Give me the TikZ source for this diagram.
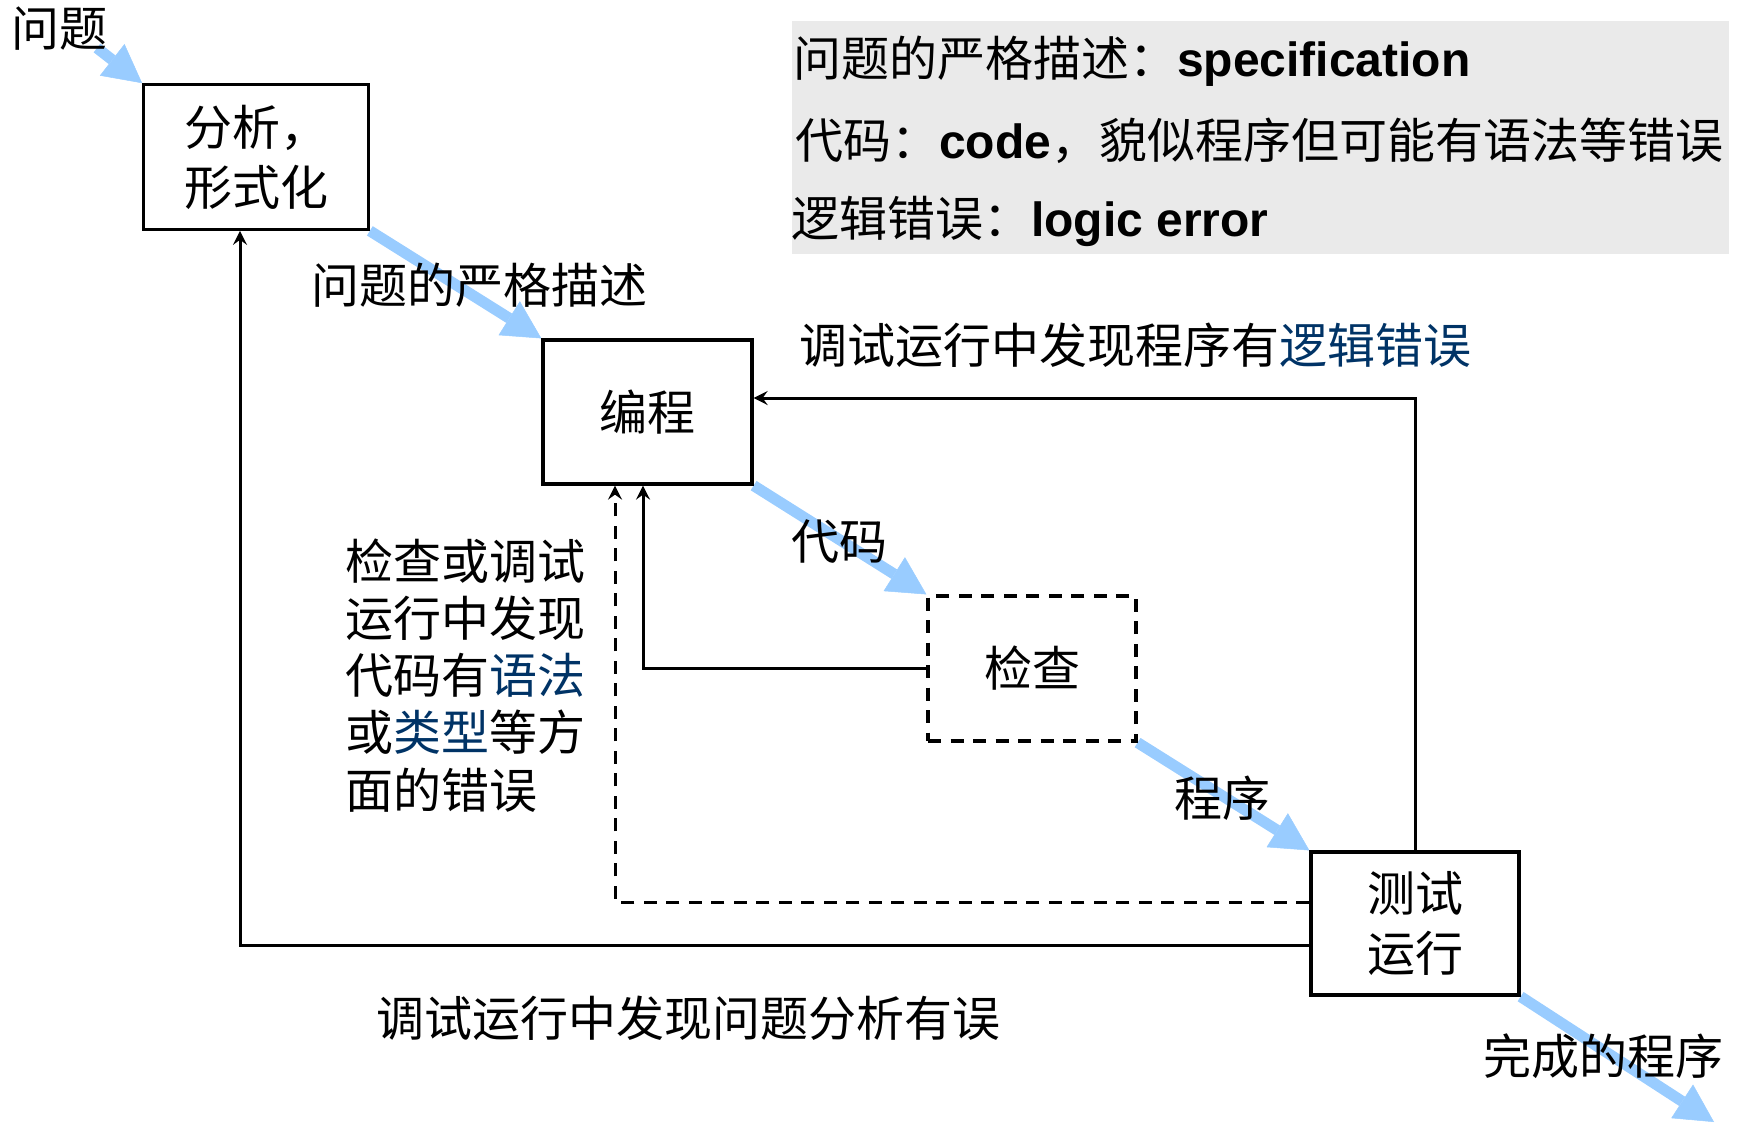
\documentclass[tikz,border=0pt]{standalone}
\usepackage{fontspec}
\setmainfont{Liberation Sans}
\newfontfamily\cjk{Noto Sans CJK SC}
\usetikzlibrary{arrows.meta}
\pgfdeclarelayer{background}
\pgfsetlayers{background,main}
\definecolor{flowblue}{RGB}{153,204,255}
\definecolor{keyblue}{RGB}{0,51,102}
\definecolor{notegray}{RGB}{234,234,234}
\begin{document}
\begin{tikzpicture}[x=1pt,y=-1pt,
  big/.style={font=\cjk\fontsize{48pt}{60pt}\selectfont},
  lbl/.style={big, inner sep=0pt, anchor=base west},
  box/.style={draw, line width=3.2pt, fill=white, inner sep=0pt, align=center, big},
  flow/.style={draw=flowblue, line width=11pt, -{Triangle[length=38pt,width=40pt,line width=0.5pt]}},
  conn/.style={draw, line width=3pt, -{Stealth[length=14pt,width=14pt,inset=5pt]}},
  dashline/.style={dash pattern=on 13pt off 9.5pt}
]
\useasboundingbox (0,0) rectangle (1744,1125);

% legend
\node[fill=notegray, minimum width=937pt, minimum height=233pt, inner sep=0pt, anchor=north west] (legend) at (792,21) {};
\node[lbl] (leg1) at (793,76.5) {问题的严格描述：{\rmfamily\bfseries specification}};
\node[lbl] (leg2) at (795,158) {代码：{\rmfamily\bfseries code}，貌似程序但可能有语法等错误};
\node[lbl] (leg3) at (791,236.5) {逻辑错误：{\rmfamily\bfseries logic error}};

% boxes
\node[box, minimum width=224.5pt, minimum height=144.5pt] (ana) at (256,157) {分析，\\形式化};
\node[box, minimum width=209pt, minimum height=144pt] (code) at (647.5,412) {编程};
\node[box, dashline, minimum width=208pt, minimum height=145pt] (check) at (1032,668.5) {检查};
\node[box, minimum width=208pt, minimum height=143pt] (test) at (1415,923.5) {测试\\运行};

% blue flow arrows (behind boxes)
\coordinate (qstart) at (97,48);
\coordinate (fend) at (1714,1122);
\begin{pgfonlayer}{background}
\draw[flow] (qstart) -- (ana.north west);
\draw[flow] (ana.south east) -- (code.north west);
\draw[flow] (code.south east) -- (check.north west);
\draw[flow] (check.south east) -- (test.north west);
\draw[flow] (test.south east) -- (fend);
\end{pgfonlayer}

% connectors
\draw[conn] (test.north) |- ([yshift=14pt]code.east);
\draw[conn] (check.west) -| ([xshift=-4.5pt]code.south);
\draw[conn, dashline] ([yshift=21.5pt]test.west) -| ([xshift=-32.5pt]code.south);
\draw[conn] ([yshift=-21.5pt]test.west) -| ([xshift=-16pt]ana.south);

% labels
\node[lbl] (lq) at (11,46.5) {问题};
\node[lbl] (lspec) at (311,303.5) {问题的严格描述};
\node[lbl] (llogic) at (799,363.5) {调试运行中发现程序有{\color{keyblue}逻辑错误}};
\node[lbl] (lcode) at (791,559.5) {代码};
\node[lbl] (lprog) at (1174,816.5) {程序};
\node[lbl] (ldone) at (1483,1074) {完成的程序};
\node[lbl] (lana) at (376,1036) {调试运行中发现问题分析有误};
\node[inner sep=0pt, anchor=north west, align=left, font=\cjk\fontsize{48pt}{57.2pt}\selectfont] (lsyn) at (345,538.5)
  {检查或调试\\运行中发现\\代码有{\color{keyblue}语法}\\或{\color{keyblue}类型}等方\\面的错误};
\end{tikzpicture}
\end{document}
